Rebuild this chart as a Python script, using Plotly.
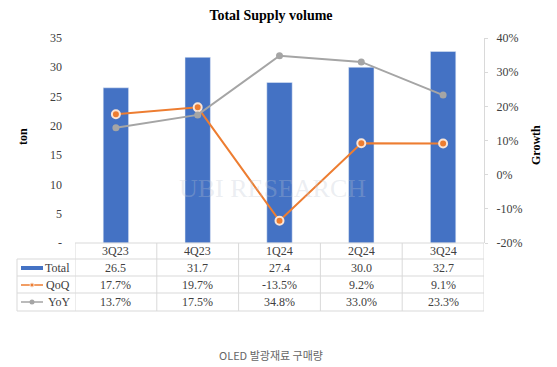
import plotly.graph_objects as go

categories = ["3Q23", "4Q23", "1Q24", "2Q24", "3Q24"]
total = [26.5, 31.7, 27.4, 30.0, 32.7]
qoq = [17.7, 19.7, -13.5, 9.2, 9.1]
yoy = [13.7, 17.5, 34.8, 33.0, 23.3]
left_ticks = [0, 5, 10, 15, 20, 25, 30, 35]
left_ticktext = ["-", "5", "10", "15", "20", "25", "30", "35"]
right_ticks = [-0.2, -0.1, 0, 0.1, 0.2, 0.3, 0.4]
right_ticktext = ["-20%", "-10%", "0%", "10%", "20%", "30%", "40%"]

BLUE = "#4472C4"
ORANGE = "#ED7D31"
GRAY = "#A5A5A5"
TXT = "#404040"
GRID = "#D9D9D9"
SERIF = "Liberation Serif, Times New Roman, serif"

fig = go.Figure()
fig.add_trace(go.Bar(x=categories, y=total, name="Total", marker_color=BLUE,
                     yaxis="y", width=0.31))
fig.add_trace(go.Scatter(x=categories, y=[v / 100 for v in qoq], name="QoQ",
                         mode="lines+markers", yaxis="y2",
                         line=dict(color=ORANGE, width=2),
                         marker=dict(symbol="circle", size=8, color=ORANGE,
                                     line=dict(color="#FBE5D6", width=2))))
fig.add_trace(go.Scatter(x=categories, y=[v / 100 for v in yoy], name="YoY",
                         mode="lines+markers", yaxis="y2",
                         line=dict(color=GRAY, width=2),
                         marker=dict(symbol="circle", size=7, color=GRAY)))

fig.update_layout(
    width=557, height=367,
    margin=dict(l=75, r=73, t=38, b=124),
    paper_bgcolor="white", plot_bgcolor="white",
    showlegend=False,
    font=dict(family=SERIF, size=12, color=TXT),
    title=dict(text="<b>Total Supply volume</b>", x=271 / 557, xanchor="center",
               y=1 - 15 / 367, yanchor="middle",
               font=dict(family=SERIF, size=14, color="#000000")),
    xaxis=dict(type="category", range=[-0.5, 4.5], showticklabels=False,
               showgrid=False, showline=False, zeroline=False, ticks=""),
    yaxis=dict(range=[0, 35], tickvals=left_ticks, ticktext=left_ticktext,
               showgrid=False, showline=False, zeroline=False, ticks="",
               ticklabelstandoff=12, tickfont=dict(family=SERIF, size=12, color=TXT)),
    yaxis2=dict(range=[-0.2, 0.4], overlaying="y", side="right",
                tickvals=right_ticks, ticktext=right_ticktext,
                showgrid=False, zeroline=False,
                showline=True, linecolor=GRID, linewidth=1,
                ticks="outside", ticklen=3, tickcolor=GRID,
                ticklabelstandoff=6,
                tickfont=dict(family=SERIF, size=12, color=TXT)),
)


def ann(**kw):
    kw.setdefault("showarrow", False)
    kw.setdefault("xanchor", "center")
    kw.setdefault("yanchor", "middle")
    fig.add_annotation(**kw)


# watermark
ann(text="UBI RESEARCH", xref="paper", yref="paper",
    x=(272 - 75) / 409, y=(243 - 188) / 205,
    font=dict(family=SERIF, size=26, color="rgba(190,198,210,0.3)"))

# axis titles
ann(text="<b>ton</b>", xref="paper", yref="paper",
    x=(23 - 75) / 409, y=(243 - 137) / 205, textangle=-90,
    font=dict(family=SERIF, size=12, color="#000000"))
ann(text="<b>Growth</b>", xref="paper", yref="paper",
    x=(536 - 75) / 409, y=(243 - 145) / 205, textangle=-90,
    font=dict(family=SERIF, size=12, color="#000000"))

# data table
def py(p):
    return (243 - p) / 205

row_lines = [243, 259, 276, 293, 311]
left_px = 17
for r in row_lines:
    fig.add_shape(type="line", xref="paper", yref="paper",
                  x0=(left_px - 75) / 409 if r != row_lines[0] else 0, x1=1.0,
                  y0=py(r), y1=py(r), line=dict(color=GRID, width=1))
for i in range(len(categories) + 1):
    fig.add_shape(type="line", xref="x", yref="paper", x0=i - 0.5, x1=i - 0.5,
                  y0=py(row_lines[0]), y1=py(row_lines[-1]),
                  line=dict(color=GRID, width=1))
fig.add_shape(type="line", xref="paper", yref="paper",
              x0=(left_px - 75) / 409, x1=(left_px - 75) / 409,
              y0=py(row_lines[1]), y1=py(row_lines[-1]),
              line=dict(color=GRID, width=1))

row_centers = [251, 268, 285, 302]
rows = [categories,
        [f"{v:.1f}" for v in total],
        [f"{v:.1f}%" for v in qoq],
        [f"{v:.1f}%" for v in yoy]]
for rc, vals in zip(row_centers, rows):
    for c, t in zip(categories, vals):
        ann(text=t, xref="x", yref="paper", x=c, y=py(rc),
            font=dict(family=SERIF, size=12, color=TXT))

labels = ["Total", "QoQ", "YoY"]
for rc, lab in zip(row_centers[1:], labels):
    ann(text=lab, xref="paper", yref="paper", x=(72 - 75) / 409,
        y=py(rc), xanchor="right",
        font=dict(family=SERIF, size=12, color=TXT))

sx0, sx1 = (21 - 75) / 409, (43 - 75) / 409
fig.add_shape(type="rect", xref="paper", yref="paper", x0=sx0, x1=sx1,
              y0=py(270), y1=py(266), fillcolor=BLUE, line=dict(width=0))
fig.add_shape(type="line", xref="paper", yref="paper", x0=sx0, x1=sx1,
              y0=py(285), y1=py(285), line=dict(color=ORANGE, width=1.5))
fig.add_shape(type="circle", xref="paper", yref="paper",
              x0=(30 - 75) / 409, x1=(34 - 75) / 409, y0=py(287), y1=py(283),
              fillcolor=ORANGE, line=dict(color="#FBE5D6", width=1))
fig.add_shape(type="line", xref="paper", yref="paper", x0=sx0, x1=sx1,
              y0=py(302), y1=py(302), line=dict(color=GRAY, width=1.5))
fig.add_shape(type="circle", xref="paper", yref="paper",
              x0=(29.5 - 75) / 409, x1=(34.5 - 75) / 409, y0=py(304.5), y1=py(299.5),
              fillcolor=GRAY, line=dict(width=0))

# caption
ann(text="OLED 발광재료 구매량", xref="paper", yref="paper",
    x=(271 - 75) / 409, y=py(355),
    font=dict(family="Noto Sans CJK KR, Noto Sans, sans-serif",
              size=11, color="#666666"))

fig.write_html("out.html", config={"displayModeBar": False},
               post_script="document.body.style.margin='0';document.body.style.padding='0';")
